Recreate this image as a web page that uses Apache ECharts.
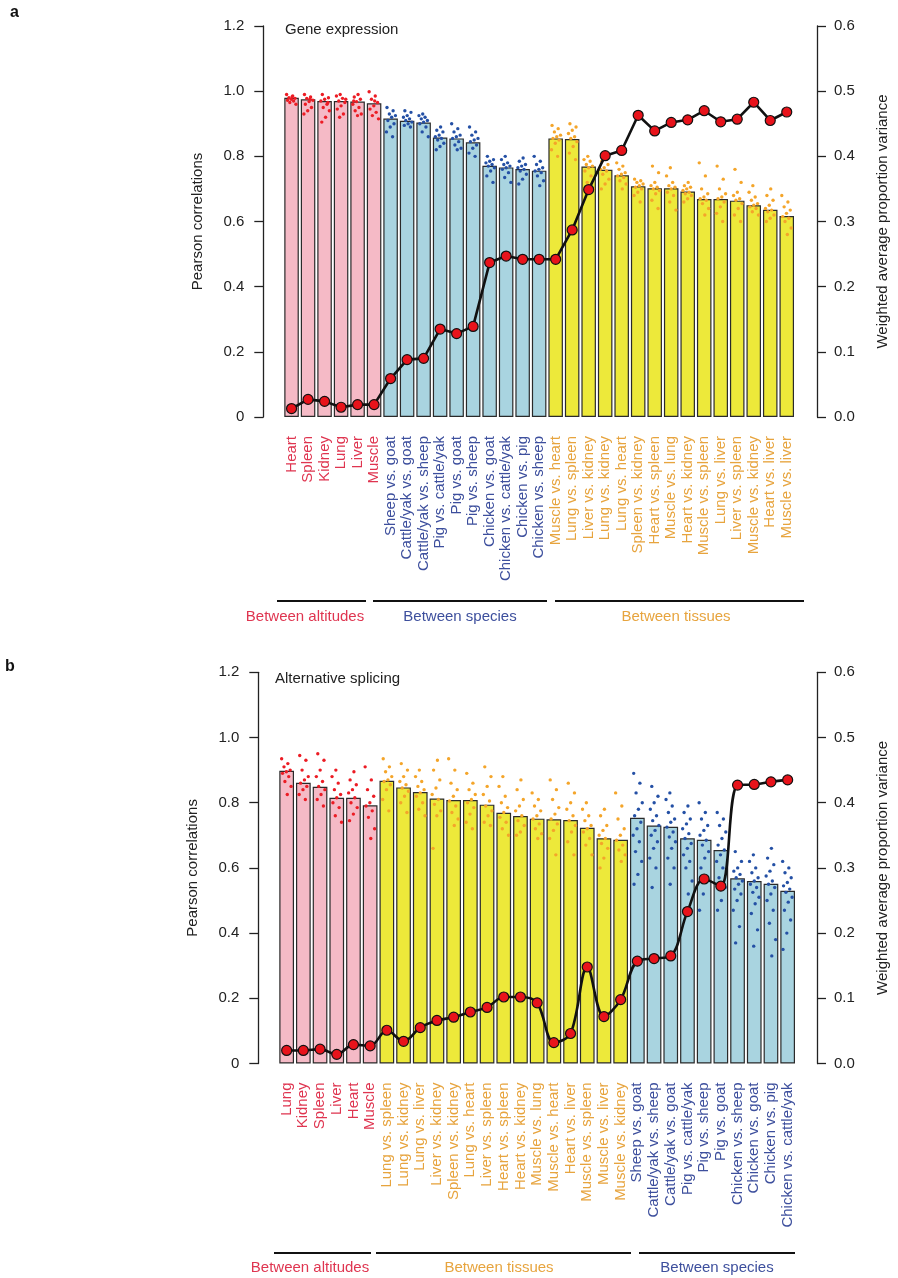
<!DOCTYPE html>
<html>
<head>
<meta charset="utf-8">
<script src="https://cdn.jsdelivr.net/npm/echarts@6/dist/echarts.min.js"></script>
<style>html,body{margin:0;padding:0;background:#fff;}#c{width:898px;height:1278px;}</style>
</head>
<body>
<div id="c"></div>
<script>
// ---------------- Panel a: Gene expression ----------------
const catsA = ['Heart','Spleen','Kidney','Lung','Liver','Muscle',
  'Sheep vs. goat','Cattle/yak vs. goat','Cattle/yak vs. sheep','Pig vs. cattle/yak','Pig vs. goat','Pig vs. sheep',
  'Chicken vs. goat','Chicken vs. cattle/yak','Chicken vs. pig','Chicken vs. sheep',
  'Muscle vs. heart','Lung vs. spleen','Liver vs. kidney','Lung vs. kidney','Lung vs. heart','Spleen vs. kidney',
  'Heart vs. spleen','Muscle vs. lung','Heart vs. kidney','Muscle vs. spleen','Lung vs. liver','Liver vs. spleen',
  'Muscle vs. kidney','Heart vs. liver','Muscle vs. liver'];
const groupKeysA = ['alt','species','tissue'];
const groupSizesA = [6,10,15];
const barsA = [0.980,0.975,0.970,0.970,0.968,0.963,0.916,0.909,0.904,0.858,0.855,0.843,0.771,0.766,0.761,0.756,
  0.855,0.853,0.769,0.759,0.742,0.708,0.702,0.702,0.692,0.669,0.669,0.664,0.650,0.636,0.617];
const lineA = [0.013,0.027,0.024,0.015,0.019,0.019,0.059,0.088,0.090,0.135,0.128,0.139,0.237,0.247,0.242,0.242,
  0.242,0.287,0.349,0.401,0.409,0.463,0.439,0.452,0.456,0.470,0.453,0.457,0.483,0.455,0.468];
const dotsA = [
  [0.99,0.985,0.98,0.978,0.975,0.972,0.97,0.965,0.96,0.983],
  [0.99,0.982,0.978,0.972,0.968,0.96,0.95,0.94,0.93,0.975],
  [0.99,0.98,0.975,0.97,0.96,0.95,0.94,0.92,0.905,0.965],
  [0.99,0.985,0.978,0.97,0.965,0.955,0.945,0.93,0.92,0.975],
  [0.99,0.982,0.975,0.968,0.96,0.95,0.94,0.93,0.925,0.97],
  [0.998,0.985,0.975,0.965,0.955,0.945,0.935,0.925,0.915,0.97],
  [0.95,0.94,0.93,0.925,0.92,0.91,0.9,0.89,0.875,0.86],
  [0.94,0.935,0.925,0.92,0.915,0.91,0.905,0.9,0.895,0.89],
  [0.93,0.925,0.92,0.915,0.91,0.905,0.9,0.89,0.875,0.86],
  [0.89,0.88,0.875,0.865,0.86,0.855,0.85,0.84,0.83,0.82],
  [0.9,0.885,0.875,0.865,0.86,0.855,0.845,0.835,0.825,0.82],
  [0.89,0.875,0.865,0.855,0.85,0.845,0.835,0.825,0.81,0.80],
  [0.8,0.79,0.785,0.78,0.775,0.77,0.765,0.755,0.74,0.72],
  [0.8,0.79,0.78,0.775,0.77,0.765,0.76,0.75,0.735,0.72],
  [0.795,0.785,0.775,0.77,0.765,0.76,0.755,0.745,0.73,0.715],
  [0.8,0.785,0.775,0.765,0.76,0.755,0.75,0.74,0.725,0.71],
  [0.895,0.885,0.875,0.865,0.86,0.855,0.85,0.84,0.82,0.80],
  [0.9,0.89,0.88,0.87,0.86,0.855,0.845,0.83,0.81,0.79],
  [0.8,0.79,0.785,0.775,0.77,0.765,0.755,0.74,0.72,0.70],
  [0.8,0.785,0.775,0.765,0.76,0.755,0.745,0.73,0.715,0.70],
  [0.78,0.77,0.76,0.75,0.745,0.74,0.735,0.725,0.715,0.70],
  [0.73,0.725,0.72,0.715,0.71,0.705,0.70,0.69,0.68,0.66],
  [0.77,0.75,0.72,0.71,0.705,0.70,0.695,0.685,0.665,0.64],
  [0.765,0.74,0.72,0.71,0.705,0.70,0.69,0.68,0.66,0.635],
  [0.72,0.71,0.705,0.70,0.695,0.69,0.685,0.68,0.67,0.66],
  [0.78,0.74,0.70,0.685,0.675,0.67,0.665,0.655,0.64,0.62],
  [0.77,0.73,0.70,0.685,0.675,0.67,0.66,0.645,0.625,0.60],
  [0.76,0.72,0.69,0.68,0.67,0.665,0.655,0.64,0.62,0.60],
  [0.71,0.69,0.675,0.665,0.655,0.65,0.645,0.64,0.63,0.62],
  [0.70,0.68,0.665,0.65,0.64,0.635,0.63,0.62,0.61,0.60],
  [0.68,0.66,0.645,0.635,0.625,0.615,0.61,0.60,0.58,0.56]
];

// ---------------- Panel b: Alternative splicing ----------------
const catsB = ['Lung','Kidney','Spleen','Liver','Heart','Muscle',
  'Lung vs. spleen','Lung vs. kidney','Lung vs. liver','Liver vs. kidney','Spleen vs. kidney','Lung vs. heart',
  'Liver vs. spleen','Heart vs. spleen','Heart vs. kidney','Muscle vs. lung','Muscle vs. heart','Heart vs. liver',
  'Muscle vs. spleen','Muscle vs. liver','Muscle vs. kidney',
  'Sheep vs. goat','Cattle/yak vs. sheep','Cattle/yak vs. goat','Pig vs. cattle/yak','Pig vs. sheep','Pig vs. goat',
  'Chicken vs. sheep','Chicken vs. goat','Chicken vs. pig','Chicken vs. cattle/yak'];
const groupKeysB = ['alt','tissue','species'];
const groupSizesB = [6,15,10];
const barsB = [0.898,0.861,0.849,0.815,0.815,0.792,0.867,0.847,0.833,0.813,0.808,0.808,0.794,0.769,0.759,0.751,
  0.749,0.747,0.723,0.691,0.686,0.754,0.730,0.726,0.691,0.686,0.655,0.568,0.560,0.551,0.530];
const lineB = [0.020,0.020,0.022,0.014,0.029,0.027,0.051,0.034,0.055,0.066,0.071,0.079,0.086,0.102,0.102,0.093,
  0.032,0.046,0.148,0.072,0.098,0.157,0.161,0.165,0.233,0.283,0.272,0.427,0.428,0.432,0.435];
const dotsB = [
  [0.935,0.92,0.91,0.90,0.895,0.89,0.88,0.865,0.85,0.825],
  [0.945,0.93,0.90,0.88,0.87,0.86,0.85,0.84,0.825,0.81],
  [0.95,0.93,0.90,0.88,0.865,0.85,0.84,0.825,0.81,0.79],
  [0.90,0.88,0.86,0.84,0.825,0.815,0.80,0.785,0.76,0.74],
  [0.895,0.87,0.855,0.84,0.83,0.815,0.80,0.785,0.765,0.745],
  [0.91,0.87,0.84,0.82,0.80,0.79,0.775,0.755,0.72,0.69],
  [0.935,0.91,0.895,0.88,0.87,0.865,0.855,0.84,0.81,0.775],
  [0.92,0.90,0.88,0.865,0.855,0.845,0.835,0.82,0.80,0.77],
  [0.90,0.88,0.865,0.85,0.84,0.83,0.82,0.80,0.78,0.76],
  [0.93,0.90,0.87,0.845,0.825,0.81,0.795,0.775,0.76,0.66],
  [0.935,0.90,0.86,0.84,0.82,0.805,0.79,0.77,0.75,0.73],
  [0.89,0.86,0.84,0.825,0.81,0.80,0.785,0.765,0.74,0.72],
  [0.91,0.88,0.85,0.825,0.805,0.79,0.775,0.76,0.74,0.73],
  [0.88,0.85,0.82,0.80,0.785,0.77,0.755,0.74,0.72,0.70],
  [0.87,0.84,0.81,0.79,0.775,0.76,0.745,0.73,0.71,0.70],
  [0.83,0.81,0.79,0.775,0.76,0.75,0.735,0.72,0.705,0.69],
  [0.87,0.84,0.81,0.785,0.765,0.75,0.735,0.715,0.69,0.64],
  [0.86,0.83,0.80,0.78,0.76,0.745,0.73,0.71,0.68,0.64],
  [0.80,0.78,0.76,0.745,0.73,0.72,0.71,0.69,0.67,0.64],
  [0.78,0.76,0.73,0.715,0.70,0.69,0.675,0.66,0.63,0.60],
  [0.83,0.79,0.75,0.72,0.70,0.685,0.67,0.655,0.64,0.62],
  [0.89,0.86,0.83,0.80,0.78,0.76,0.74,0.72,0.70,0.68,0.65,0.62,0.58,0.55],
  [0.85,0.82,0.80,0.78,0.76,0.745,0.73,0.715,0.70,0.68,0.66,0.63,0.60,0.54],
  [0.83,0.81,0.79,0.77,0.75,0.74,0.725,0.71,0.695,0.68,0.66,0.63,0.60,0.55],
  [0.79,0.77,0.75,0.735,0.72,0.705,0.69,0.675,0.66,0.64,0.62,0.60,0.56,0.52],
  [0.80,0.77,0.75,0.73,0.715,0.70,0.685,0.67,0.65,0.63,0.60,0.57,0.52,0.47],
  [0.77,0.75,0.73,0.71,0.69,0.67,0.655,0.64,0.62,0.60,0.57,0.54,0.50,0.47],
  [0.65,0.62,0.60,0.59,0.58,0.57,0.56,0.55,0.535,0.52,0.50,0.47,0.42,0.37],
  [0.64,0.62,0.60,0.585,0.57,0.56,0.55,0.54,0.525,0.51,0.49,0.46,0.41,0.36],
  [0.66,0.63,0.61,0.59,0.575,0.56,0.55,0.54,0.52,0.50,0.47,0.43,0.38,0.33],
  [0.62,0.60,0.585,0.57,0.555,0.545,0.535,0.525,0.51,0.495,0.47,0.44,0.40,0.35]
];

// ---------------- styling ----------------
const FONT = '"Liberation Sans", Arial, Helvetica, sans-serif';
const barFill = {alt:'#f5bac6', species:'#a9d4e0', tissue:'#ede93a'};
const dotFill = {alt:'#ec1c24', species:'#2450a5', tissue:'#f4a52a'};
const labelCol = {alt:'#df3550', species:'#3d4f9d', tissue:'#e7a43e'};
const groupText = {alt:'Between altitudes', species:'Between species', tissue:'Between tissues'};

function expand(keys, sizes){ const out=[]; keys.forEach((k,i)=>{ for(let j=0;j<sizes[i];j++) out.push(k); }); return out; }
const grpA = expand(groupKeysA, groupSizesA);
const grpB = expand(groupKeysB, groupSizesB);

function xCats(cats, grp){ return cats.map((c,i)=>({value:c, textStyle:{color:labelCol[grp[i]]}})); }
function barData(vals, grp){ return vals.map((v,i)=>({value:v, itemStyle:{color:barFill[grp[i]]}})); }
function dotData(dots){ const d=[]; dots.forEach((arr,i)=>arr.forEach((v,k)=>d.push([i,v,k]))); return d; }
function dotRender(grp){
  return function(params, api){
    const i = api.value(0), v = api.value(1), k = api.value(2);
    const p = api.coord([i, v]);
    const band = api.size([1, 0])[0];
    const j = ((k * 0.6180339 + (i % 5) * 0.137) % 1) - 0.5;
    return {type:'circle', shape:{cx:p[0] + j * band * 0.6, cy:p[1], r:1.7}, style:{fill:dotFill[grp[i]]}};
  };
}

const axisLineStyle = {color:'#222', width:1.3};
function leftY(gridIndex){
  return {type:'value', gridIndex, position:'left', offset:20, min:0, max:1.2, interval:0.2,
    name:'Pearson correlations', nameLocation:'middle', nameRotate:90, nameGap:58,
    nameTextStyle:{fontFamily:FONT, fontSize:15, color:'#222'},
    axisLine:{show:true, lineStyle:axisLineStyle}, axisTick:{show:true, length:9, lineStyle:axisLineStyle},
    axisLabel:{fontFamily:FONT, fontSize:15, color:'#222', margin:19,
      formatter:v=> Math.abs(v)<1e-9 ? '0' : v.toFixed(1)},
    splitLine:{show:false}};
}
function rightY(gridIndex, off){
  return {type:'value', gridIndex, position:'right', offset:off, min:0, max:0.6, interval:0.1,
    name:'Weighted average proportion variance', nameLocation:'middle', nameRotate:90, nameGap:58,
    nameTextStyle:{fontFamily:FONT, fontSize:15, color:'#222'},
    axisLine:{show:true, lineStyle:axisLineStyle}, axisTick:{show:true, length:9, lineStyle:axisLineStyle},
    axisLabel:{fontFamily:FONT, fontSize:15, color:'#222', margin:17, formatter:v=>v.toFixed(1)},
    splitLine:{show:false}};
}
function xAx(gridIndex, cats, grp){
  return {type:'category', gridIndex, data:xCats(cats, grp),
    axisLine:{show:false}, axisTick:{show:false},
    axisLabel:{interval:0, rotate:90, margin:19, fontFamily:FONT, fontSize:15}};
}
function barSeries(xi, yi, vals, grp){
  return {type:'bar', xAxisIndex:xi, yAxisIndex:yi, data:barData(vals, grp), barCategoryGap:'12%',
    itemStyle:{borderColor:'#2a2a2a', borderWidth:1.2}, z:2, silent:true};
}
function dotSeries(xi, yi, dots, grp){
  return {type:'custom', xAxisIndex:xi, yAxisIndex:yi, data:dotData(dots), renderItem:dotRender(grp),
    encode:{x:0, y:1}, z:3, silent:true};
}
function lineSeries(xi, yi, vals, smooth){
  return {type:'line', xAxisIndex:xi, yAxisIndex:yi, data:vals, smooth:smooth, symbol:'circle', symbolSize:10,
    lineStyle:{color:'#111', width:2.6}, itemStyle:{color:'#e8131b', borderColor:'#111', borderWidth:1.2},
    z:5, silent:true, animation:false};
}

function bracket(x1, x2, y, key, cx, ty){
  return [
    {type:'line', shape:{x1, y1:y, x2, y2:y}, style:{stroke:'#111', lineWidth:2}},
    {type:'text', x:cx, y:ty, style:{text:groupText[key], fill:labelCol[key], font:'15px '+FONT, textAlign:'center', textVerticalAlign:'middle'}}
  ];
}

const chart = echarts.init(document.getElementById('c'), null, {renderer:'canvas'});
chart.setOption({
  animation:false,
  backgroundColor:'#fff',
  grid:[
    {left:283.3, right:95.7, top:26, height:391},
    {left:278.3, right:101.3, top:672.3, height:391.2}
  ],
  xAxis:[xAx(0, catsA, grpA), xAx(1, catsB, grpB)],
  yAxis:[leftY(0), rightY(0, 22), leftY(1), rightY(1, 21)],
  series:[
    barSeries(0, 0, barsA, grpA), dotSeries(0, 0, dotsA, grpA), lineSeries(0, 1, lineA, false),
    barSeries(1, 2, barsB, grpB), dotSeries(1, 2, dotsB, grpB), lineSeries(1, 3, lineB, 0.35)
  ],
  graphic:[
    {type:'text', x:10, y:13, style:{text:'a', font:'bold 16px '+FONT, fill:'#111', textVerticalAlign:'middle'}},
    {type:'text', x:285, y:30, style:{text:'Gene expression', font:'15px '+FONT, fill:'#222', textVerticalAlign:'middle'}},
    {type:'text', x:5, y:667, style:{text:'b', font:'bold 16px '+FONT, fill:'#111', textVerticalAlign:'middle'}},
    {type:'text', x:275, y:679, style:{text:'Alternative splicing', font:'15px '+FONT, fill:'#222', textVerticalAlign:'middle'}},
    ...bracket(277, 366, 601, 'alt', 305, 617),
    ...bracket(373, 547, 601, 'species', 460, 617),
    ...bracket(555, 804, 601, 'tissue', 676, 617),
    ...bracket(274, 371, 1253, 'alt', 310, 1268),
    ...bracket(376, 631, 1253, 'tissue', 499, 1268),
    ...bracket(639, 795, 1253, 'species', 717, 1268)
  ]
});
</script>
</body>
</html>
